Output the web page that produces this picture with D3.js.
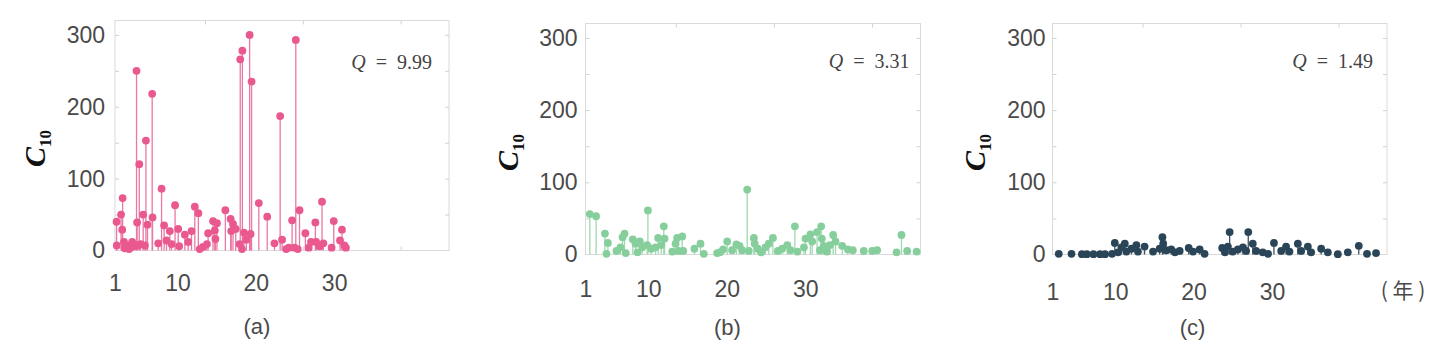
<!DOCTYPE html>
<html>
<head>
<meta charset="utf-8">
<script src="https://cdn.jsdelivr.net/npm/d3@7"></script>
<style>
    body { margin: 0; background: #fff; }
</style>
</head>
<body>
<svg id="chart" width="1448" height="356" font-family="'Liberation Sans', Arial, sans-serif"></svg>
<script>
// Tick labels and captions
const xTickValues = [4, 36, 76, 116];
const xTickLabels = ['1', '10', '20', '30'];
const yTickValues = [0, 100, 200, 300];
const frameTicksX = [50, 100, 150];
const frameTicksY = [50, 100, 150, 200, 250, 300];
const panelNames = ['(a)', '(b)', '(c)'];
const qValues = ['9.99', '3.31', '1.49'];

// [position, C10]
const seriesA = [
    [4.8, 40], [4.9, 7], [7.1, 50], [7.7, 29], [7.9, 73], [8.6, 12], [9.0, 3], [9.6, 5], [10.8, 7],
    [11.2, 2], [11.8, 4], [12.8, 12], [13.8, 6], [15.0, 250], [15.3, 39], [15.6, 7], [16.4, 120],
    [17.1, 9], [18.4, 50], [19.3, 7], [19.8, 153], [20.6, 36], [23.0, 218], [23.2, 46], [26.1, 10],
    [27.8, 86], [29.1, 35], [30.3, 14], [32.0, 27], [32.9, 9], [34.7, 63], [36.3, 30], [36.8, 6],
    [39.7, 22], [41.4, 12], [43.1, 27], [44.8, 61], [46.6, 52], [47.3, 2], [49.0, 5], [51.0, 9],
    [51.6, 24], [54.1, 41], [55.0, 28], [55.3, 16], [56.1, 38], [60.4, 56], [63.1, 44], [63.4, 27],
    [64.3, 37], [65.7, 30], [67.7, 9], [68.0, 266], [68.9, 2], [69.1, 278], [69.9, 25], [71.1, 15],
    [72.8, 300], [73.3, 23], [73.8, 235], [77.5, 66], [81.8, 47], [85.5, 10], [88.4, 187], [89.4, 15],
    [91.5, 2], [92.8, 4], [94.5, 42], [95.7, 4], [96.4, 293], [97.4, 2], [98.3, 56], [101.3, 24],
    [103.0, 4], [104.2, 12], [106.4, 39], [106.8, 12], [108.5, 6], [109.8, 68], [110.5, 10],
    [114.7, 4], [115.8, 41], [119.0, 14], [120.0, 29], [121.2, 7], [122.0, 4]
];
const seriesB = [
    [6.2, 56], [9.4, 53], [13.9, 29], [14.7, 1], [15.4, 16], [19.8, 5], [21.8, 10], [22.9, 24],
    [23.9, 29], [24.5, 2], [28.1, 21], [29.5, 15], [30.5, 3], [31.7, 18], [32.9, 10], [35.4, 13],
    [35.8, 61], [37.5, 8], [39.7, 10], [41.0, 23], [42.6, 13], [43.9, 39], [44.3, 22], [48.2, 4],
    [49.9, 15], [50.7, 23], [51.5, 5], [53.3, 25], [53.8, 5], [59.5, 8], [62.6, 15], [64.3, 1],
    [71.1, 2], [72.5, 3], [74.1, 7], [76.2, 18], [78.7, 6], [80.9, 14], [82.5, 12], [83.8, 6],
    [86.4, 90], [87.2, 5], [89.8, 23], [90.2, 15], [91.8, 8], [93.5, 3], [95.7, 10], [97.4, 15],
    [99.5, 23], [102.0, 5], [104.2, 8], [106.8, 13], [108.5, 6], [110.7, 39], [112.0, 4], [115.3, 10],
    [116.1, 22], [118.6, 28], [119.5, 18], [122.0, 31], [123.5, 6], [124.1, 39], [124.4, 22],
    [125.4, 12], [127.0, 4], [128.5, 13], [130.2, 27], [131.4, 18], [134.8, 12], [137.7, 7],
    [140.2, 6], [145.8, 5], [150.1, 5], [152.6, 6], [162.5, 3], [165.0, 27], [167.9, 5], [172.7, 4]
];
const seriesC = [
    [7.2, 1], [13.7, 1], [19.0, 0.5], [21.5, 0.5], [24.9, 0.5], [28.3, 0.5], [30.8, 0.5], [34.4, 1],
    [35.8, 16], [37.5, 3], [39.2, 10], [40.9, 15], [41.7, 4], [44.3, 8], [46.8, 13], [47.6, 4],
    [51.0, 11], [55.3, 4], [58.7, 8], [60.1, 24], [60.5, 15], [62.1, 6], [64.6, 7], [66.5, 3],
    [68.9, 5], [73.5, 9], [75.7, 4], [79.1, 7], [81.6, 1], [90.6, 9], [92.0, 3], [93.5, 11],
    [94.4, 31], [96.0, 4], [98.6, 7], [101.2, 10], [102.8, 5], [103.9, 31], [106.2, 15], [107.9, 5],
    [111.3, 3], [114.0, 1], [117.0, 16], [120.7, 5], [123.2, 11], [124.9, 4], [129.2, 15], [130.9, 5],
    [134.3, 11], [136.0, 3], [141.1, 8], [144.5, 3], [149.6, 0.5], [154.7, 3], [160.3, 12],
    [164.5, 1], [169.1, 2]
];

// StemPlot Class
class StemPlot {
    constructor (_parentElement, data, opts) {
        this.parentElement = _parentElement;
        this.data = data;
        this.opts = opts;

        this.initViz();
    };

    initViz () {
        var viz = this;
        let o = viz.opts;

        viz.width = o.width;
        viz.height = o.height;

        viz.g = d3.select(viz.parentElement).append('g')
            .attr('transform', `translate(${o.left},${o.top})`);

        viz.x = d3.scaleLinear().domain([4, 174.7]).range([0, viz.width]);
        viz.y = d3.scaleLinear().domain([0, 320]).range([viz.height, 0]);

        // frame with small inward ticks
        viz.g.append('rect')
            .attr('width', viz.width)
            .attr('height', viz.height)
            .attr('fill', 'none')
            .attr('stroke', '#dadada')
            .attr('stroke-width', 1);

        let frameAxes = [
            [d3.axisRight(viz.y).tickValues(frameTicksY), 0, 0],
            [d3.axisLeft(viz.y).tickValues(frameTicksY), viz.width, 0],
            [d3.axisBottom(viz.x).tickValues(frameTicksX), 0, 0],
            [d3.axisTop(viz.x).tickValues(frameTicksX), 0, viz.height]
        ];
        frameAxes.forEach(([ax, tx, ty]) => {
            let a = viz.g.append('g')
                .attr('transform', `translate(${tx},${ty})`)
                .call(ax.tickSize(4).tickFormat(''));
            a.select('.domain').remove();
            a.selectAll('line').attr('stroke', '#d2d2d2');
        });

        // tick labels
        viz.yAxis = viz.g.append('g')
            .call(d3.axisLeft(viz.y).tickValues(yTickValues).tickSize(0).tickPadding(o.yPad));
        viz.xAxis = viz.g.append('g')
            .attr('transform', `translate(0,${viz.height})`)
            .call(d3.axisBottom(viz.x).tickValues(xTickValues).tickSize(0).tickPadding(o.xPad)
                .tickFormat((d, i) => xTickLabels[i]));
        [viz.xAxis, viz.yAxis].forEach(a => {
            a.select('.domain').remove();
            a.attr('font-family', null).attr('font-size', null);
            a.selectAll('text')
                .attr('font-size', '23px')
                .attr('fill', '#4a4a4a');
        });

        // y label C10
        let yl = viz.g.append('text')
            .attr('transform', `translate(${o.yLabelX},${o.yLabelY}) rotate(-90)`)
            .attr('text-anchor', 'middle')
            .attr('font-family', "'Liberation Serif', 'Times New Roman', serif")
            .attr('font-weight', 'bold')
            .attr('fill', '#111');
        yl.append('tspan').attr('font-size', '30px').attr('font-style', 'italic').text('C');
        yl.append('tspan').attr('font-size', '17px').attr('dy', 6).text('10');

        // Q value
        let q = viz.g.append('text')
            .attr('x', viz.width - o.qRight)
            .attr('y', o.qY)
            .attr('text-anchor', 'end')
            .attr('font-family', "'Liberation Serif', 'Times New Roman', serif")
            .attr('font-size', '20px')
            .attr('fill', '#444');
        q.append('tspan').attr('font-style', 'italic').text('Q');
        q.append('tspan').attr('xml:space', 'preserve').text('  =  ' + o.q);

        // caption
        viz.g.append('text')
            .attr('x', o.captionX)
            .attr('y', o.captionY)
            .attr('text-anchor', 'middle')
            .attr('font-size', '22px')
            .attr('fill', '#4a4a4a')
            .text(o.name);

        if (o.unit) {
            viz.g.append('text')
                .attr('x', viz.width + 16)
                .attr('y', viz.height + o.xPad)
                .attr('dy', '0.71em')
                .attr('text-anchor', 'middle')
                .attr('font-family', "'Noto Sans CJK SC', 'Noto Sans', sans-serif")
                .attr('font-size', '21px')
                .attr('fill', '#4a4a4a')
                .attr('xml:space', 'preserve')
                .text(o.unit);
        }

        viz.updateViz();
    };

    updateViz () {
        var viz = this;
        let o = viz.opts;

        viz.g.append('g').selectAll('line')
            .data(viz.data)
            .enter().append('line')
            .attr('x1', d => viz.x(d[0]))
            .attr('x2', d => viz.x(d[0]))
            .attr('y1', viz.y(0))
            .attr('y2', d => viz.y(d[1]))
            .attr('stroke', o.stem)
            .attr('stroke-width', 1.3);

        viz.g.append('g').selectAll('circle')
            .data(viz.data)
            .enter().append('circle')
            .attr('cx', d => viz.x(d[0]))
            .attr('cy', d => viz.y(d[1]))
            .attr('r', 3.9)
            .attr('fill', o.dot);
    };
}

const svg = document.getElementById('chart');

new StemPlot(svg, seriesA, {
    left: 115, top: 20.5, width: 334, height: 230, yPad: 10, xPad: 24,
    yLabelX: -70, yLabelY: 128, qRight: 17, qY: 48, q: qValues[0],
    captionX: 142, captionY: 313, name: panelNames[0],
    dot: '#e9598f', stem: '#ea78a5'
});
new StemPlot(svg, seriesB, {
    left: 585.5, top: 23.5, width: 335, height: 231, yPad: 8, xPad: 26,
    yLabelX: -68, yLabelY: 129, qRight: 11, qY: 44, q: qValues[1],
    captionX: 142, captionY: 311, name: panelNames[1],
    dot: '#86cf9c', stem: '#9fd9b0'
});
new StemPlot(svg, seriesC, {
    left: 1052.5, top: 23.5, width: 334.5, height: 231, yPad: 7, xPad: 29,
    yLabelX: -68, yLabelY: 129, qRight: 14, qY: 44, q: qValues[2],
    captionX: 140, captionY: 311, name: panelNames[2],
    dot: '#2b4558', stem: '#3b5467', unit: '( 年 )'
});
</script>
</body>
</html>
